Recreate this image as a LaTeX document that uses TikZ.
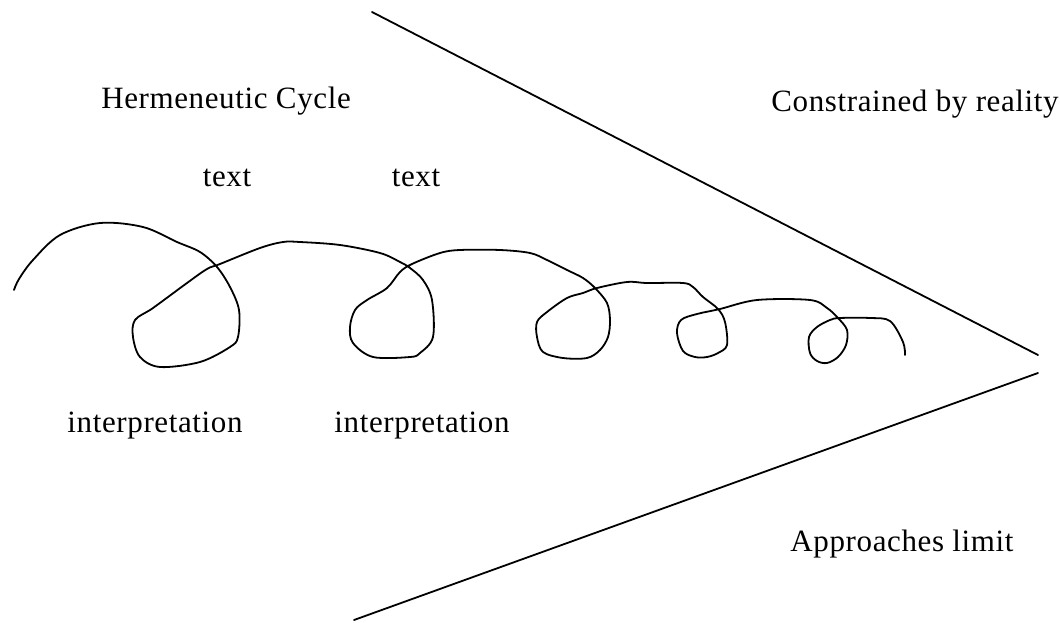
\documentclass[tikz,border=0pt]{standalone}
\usepackage{fontspec}
\setmainfont[LetterSpace=2]{Liberation Serif}
\begin{document}
\begin{tikzpicture}[x=1pt,y=-1pt,
  lbl/.style={anchor=base,inner sep=0pt,font=\fontsize{31}{36}\selectfont},
  ln/.style={line width=1.8pt,line cap=round,line join=round}]
\useasboundingbox (0,0) rectangle (1060,623);
\fill[white] (0,0) rectangle (1060,623);
% limit lines
\coordinate (u1) at (372,12);
\coordinate (u2) at (1038,355);
\coordinate (l1) at (1038,373);
\coordinate (l2) at (354,620);
\draw[ln] (u1) -- (u2);
\draw[ln] (l1) -- (l2);
% labels
\node[lbl] (herm) at (226,109) {Hermeneutic Cycle};
\node[lbl] (t1) at (227,186) {text};
\node[lbl] (t2) at (416,186) {text};
\node[lbl] (i1) at (155,432) {interpretation};
\node[lbl] (i2) at (422,432) {interpretation};
\node[lbl] (cons) at (915,112) {Constrained by reality};
\node[lbl] (appr) at (902,551) {Approaches limit};
% hermeneutic spiral
\draw[ln] plot[smooth,tension=0.55] coordinates {
(14,290) (19,279) (33,260) (60,235) (100,223) (143,227) (177,242) (200,252) (217,267)
(230,287) (239,310) (238,337) (230,347) (200,362) (160,367) (140,357) (133,337) (135,320)
(153,308) (187,283) (207,269) (220,264) (260,248) (283,242) (300,242) (340,245) (380,253)
(400,262) (410,268) (423,280) (432,300) (433,337) (420,353) (410,357) (373,357) (353,343)
(350,327) (355,310) (367,300) (387,288) (400,272) (412,264) (440,253) (460,250) (500,250)
(530,253) (547,260) (567,270) (583,278) (595,288) (607,303) (610,320) (608,337) (600,350)
(587,358) (563,358) (543,352) (537,337) (537,322) (547,312) (567,298) (583,293) (597,288)
(627,282) (647,283) (683,283) (693,287) (703,297) (718,309) (725,322) (727,345) (718,353)
(707,357) (695,357) (683,351) (677,333) (681,320) (697,314) (720,309) (757,300) (810,300)
(827,308) (838,318) (847,330) (846,345) (838,357) (827,363) (817,361) (810,353) (809,337)
(817,327) (830,320) (840,318) (870,318) (890,321) (903,342) (905,355)};
\end{tikzpicture}
\end{document}
